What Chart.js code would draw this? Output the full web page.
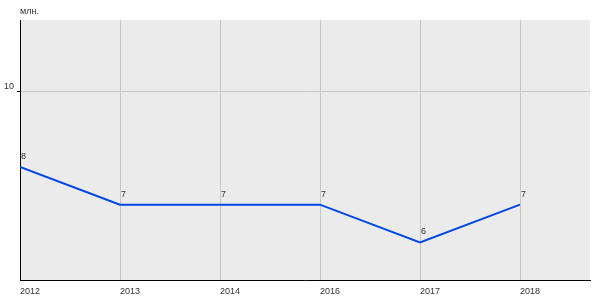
<!DOCTYPE html>
<html>
<head>
<meta charset="utf-8">
<script src="https://cdn.jsdelivr.net/npm/chart.js@4/dist/chart.umd.min.js"></script>
<style>
  html, body { margin: 0; padding: 0; background: #fff; }
  #wrap { width: 600px; height: 300px; }
</style>
</head>
<body>
<div id="wrap"><canvas id="chart"></canvas></div>
<script>
// Chart data
const years = ['2012', '2013', '2014', '2016', '2017', '2018'];
const values = [8, 7, 7, 7, 6, 7];
const yTicks = [10];
const unitLabel = 'млн.';

const FONT = 'Arial, "Liberation Sans", sans-serif';

// Plot background
const plotBackground = {
    id: 'plotBackground',
    beforeDraw(chart) {
        const { ctx, chartArea } = chart;
        ctx.save();
        ctx.fillStyle = '#ebebeb';
        ctx.fillRect(chartArea.left, chartArea.top, chartArea.right - chartArea.left, chartArea.bottom - chartArea.top);
        ctx.restore();
    }
};

// Unit label and point value labels
const textLabels = {
    id: 'textLabels',
    afterDatasetsDraw(chart) {
        const { ctx, chartArea } = chart;
        const meta = chart.getDatasetMeta(0);
        ctx.save();
        ctx.font = '9px ' + FONT;
        ctx.fillStyle = '#333';
        ctx.textAlign = 'left';
        ctx.textBaseline = 'alphabetic';
        ctx.fillText(unitLabel, chartArea.left, 14);
        meta.data.forEach((pt, i) => {
            ctx.fillText(String(values[i]), pt.x + 1, pt.y - 8);
        });
        ctx.restore();
    }
};

const ctx = document.getElementById('chart').getContext('2d');
const chart = new Chart(ctx, {
    type: 'line',
    data: {
        datasets: [{
            data: values.map((v, i) => ({ x: i, y: v })),
            borderColor: '#0046e6',
            borderWidth: 2,
            pointRadius: 0,
            tension: 0,
            fill: false
        }]
    },
    options: {
        responsive: true,
        maintainAspectRatio: false,
        animation: false,
        layout: { padding: { top: 20, right: 10, left: 0, bottom: 0 } },
        plugins: {
            legend: { display: false },
            tooltip: { enabled: false }
        },
        scales: {
            x: {
                type: 'linear',
                min: 0,
                max: 5.7,
                afterBuildTicks: axis => {
                    axis.ticks = years.map((y, i) => ({ value: i }));
                },
                afterFit: axis => { axis.height = 20; },
                grid: {
                    color: '#c6c6c6',
                    drawTicks: false
                },
                border: { color: '#000', width: 1 },
                ticks: {
                    callback: v => years[v],
                    align: 'start',
                    maxRotation: 0,
                    autoSkip: false,
                    padding: 6,
                    color: '#333',
                    font: { family: FONT, size: 9 }
                }
            },
            y: {
                min: 5,
                max: 11.9,
                afterBuildTicks: axis => {
                    axis.ticks = yTicks.map(v => ({ value: v }));
                },
                afterFit: axis => { axis.width = 20; },
                grid: {
                    color: '#c6c6c6',
                    tickColor: '#000',
                    tickLength: 3
                },
                border: { color: '#000', width: 1 },
                ticks: {
                    padding: 3,
                    labelOffset: -5,
                    color: '#333',
                    font: { family: FONT, size: 9 }
                }
            }
        }
    },
    plugins: [plotBackground, textLabels]
});
</script>
</body>
</html>
